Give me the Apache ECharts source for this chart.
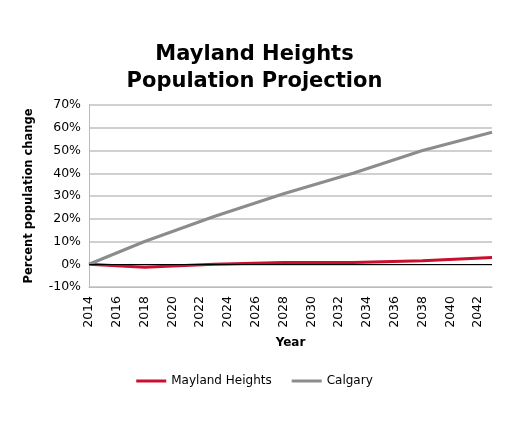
<!DOCTYPE html>
<html><head><meta charset="utf-8">
<script src="https://cdn.jsdelivr.net/npm/echarts@6/dist/echarts.min.js"></script>
<style>html,body{margin:0;background:#fff}#c{width:509px;height:425px}</style>
</head><body><div id="c"></div>
<script>
var years = [];
for (var y = 2014; y <= 2043; y++) years.push(String(y));
// values read at key years, nulls between (connected)
var maylandPts = {2014: 0, 2018: -1.3, 2020: -0.8, 2023: 0, 2028: 0.8, 2033: 0.8, 2038: 1.5, 2043: 3};
var calgaryPts = {2014: 0, 2018: 10, 2023: 21, 2028: 31, 2033: 40, 2038: 50, 2043: 58};
function toSeries(pts) {
  var out = [];
  for (var i = 0; i < years.length; i++) {
    var v = pts[years[i]];
    out.push(v === undefined ? null : v);
  }
  return out;
}
var mayland = toSeries(maylandPts);
var calgary = toSeries(calgaryPts);

var myChart = echarts.init(document.getElementById('c'));
var font = 'DejaVu Sans';
option = {
  animation: false,
  title: {
    text: 'Mayland Heights\nPopulation Projection',
    left: 'center', top: 36,
    textStyle: {fontFamily: font, fontSize: 21, fontWeight: 'bold', color: '#000', lineHeight: 27, letterSpacing: -1.5}
  },
  legend: {
    bottom: 33, left: 'center', itemWidth: 30, itemHeight: 3, itemGap: 20, icon: 'rect',
    textStyle: {fontFamily: font, fontSize: 12, color: '#000'}
  },
  grid: {left: 89, right: 17, top: 105, bottom: 138},
  xAxis: {
    type: 'category', data: years, boundaryGap: false,
    name: 'Year', nameLocation: 'middle', nameGap: 50,
    nameTextStyle: {fontFamily: font, fontSize: 12, fontWeight: 'bold', color: '#000'},
    axisLine: {onZero: false, lineStyle: {color: '#bbb'}},
    axisTick: {show: false},
    axisLabel: {interval: 1, rotate: 90, fontFamily: font, fontSize: 12.5, color: '#000', margin: 9}
  },
  yAxis: {
    type: 'value', min: -10, max: 70, interval: 10,
    name: 'Percent population change', nameLocation: 'middle', nameGap: 54,
    nameTextStyle: {fontFamily: font, fontSize: 11.5, fontWeight: 'bold', color: '#000'},
    axisLine: {show: true, lineStyle: {color: '#bbb'}},
    axisTick: {show: false},
    axisLabel: {formatter: '{value}%', fontFamily: font, fontSize: 12.5, color: '#000'},
    splitLine: {lineStyle: {color: '#c0c0c0', width: 1.5}}
  },
  series: [{
    name: 'Mayland Heights', type: 'line', data: mayland, connectNulls: true,
    showSymbol: false, z: 3, color: '#c8102e', lineStyle: {width: 3},
    markLine: {silent: true, symbol: 'none', label: {show: false},
      lineStyle: {color: '#000', width: 1.2, type: 'solid'}, data: [{yAxis: 0}]}
  }, {
    name: 'Calgary', type: 'line', data: calgary, connectNulls: true,
    showSymbol: false, color: '#8c8c8c', lineStyle: {width: 3}
  }]
};
myChart.setOption(option);
</script></body></html>
